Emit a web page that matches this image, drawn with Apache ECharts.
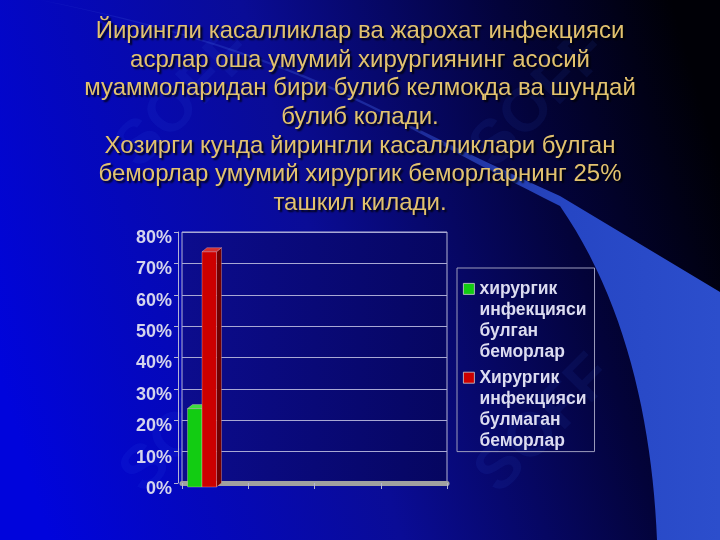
<!doctype html>
<html lang="uz">

<head>
    <meta charset="UTF-8" />
    <title>Йирингли касалликлар</title>
    <style>
        html, body { margin: 0; padding: 0; background: #000; }
        #main { width: 720px; height: 540px; }
    </style>
</head>

<body>
    <div id="main"></div>

    <script src="https://cdn.jsdelivr.net/npm/echarts@6/dist/echarts.min.js"></script>
    <script type="text/javascript">
        // data
        var categories = ['', '', '', ''];
        var seriesNames = ['хирургик инфекцияси булган беморлар', 'Хирургик инфекцияси булмаган беморлар'];
        var infectedValues = [25, null, null, null];
        var cleanValues = [75, null, null, null];
        var yTicks = { min: 0, max: 80, step: 10 };

        var titleText = 'Йирингли касалликлар ва жарохат инфекцияси\n' +
            'асрлар оша умумий хирургиянинг асосий\n' +
            'муаммоларидан бири булиб келмоқда ва шундай\n' +
            'булиб колади.\n' +
            'Хозирги кунда йирингли касалликлари булган\n' +
            'беморлар умумий хирургик беморларнинг 25%\n' +
            'ташкил килади.';

        var chart = echarts.init(document.getElementById('main'));

        // pseudo 3d look of the old excel chart
        var DX = 5, DY = 4, BAR_W = 14.5;

        function bar3d(idx, front, side, top) {
            return function (params, api) {
                var v = api.value(1);
                if (v == null || isNaN(v)) return;
                var c = api.value(0);
                var band = api.size([1, 0])[0];
                var start = api.coord([c, 0])[0] - band / 2;
                var yTop = api.coord([c, v])[1] + DY;
                var yBase = api.coord([c, 0])[1] + DY;
                var x0 = start + 5.5 + idx * BAR_W;
                var x1 = x0 + BAR_W;
                var edge = 'rgba(255,210,210,0.55)';
                return {
                    type: 'group',
                    children: [{
                        type: 'polygon',
                        shape: { points: [[x1, yTop], [x1 + DX, yTop - DY], [x1 + DX, yBase - DY], [x1, yBase]] },
                        style: { fill: side, stroke: edge, lineWidth: 0.6 }
                    }, {
                        type: 'rect',
                        shape: { x: x0, y: yTop, width: BAR_W, height: yBase - yTop },
                        style: { fill: front, stroke: edge, lineWidth: 0.6 }
                    }, {
                        type: 'polygon',
                        shape: { points: [[x0, yTop], [x0 + DX, yTop - DY], [x1 + DX, yTop - DY], [x1, yTop]] },
                        style: { fill: top, stroke: edge, lineWidth: 0.6 }
                    }]
                };
            };
        }

        function toData(arr) {
            return arr.map(function (v, i) { return [i, v]; });
        }

        // slide decoration: sample a few bezier segments into a polygon
        function bez(p0, p1, p2, p3, n) {
            var out = [];
            for (var i = 1; i <= n; i++) {
                var t = i / n, u = 1 - t;
                if (p3) {
                    out.push([u * u * u * p0[0] + 3 * u * u * t * p1[0] + 3 * u * t * t * p2[0] + t * t * t * p3[0],
                        u * u * u * p0[1] + 3 * u * u * t * p1[1] + 3 * u * t * t * p2[1] + t * t * t * p3[1]]);
                } else {
                    out.push([u * u * p0[0] + 2 * u * t * p1[0] + t * t * p2[0],
                        u * u * p0[1] + 2 * u * t * p1[1] + t * t * p2[1]]);
                }
            }
            return out;
        }
        var swoosh = [[40, 0]]
            .concat(bez([40, 0], [250, 40], [400, 120], null, 20))
            .concat(bez([400, 120], [480, 160], [560, 196], null, 10))
            .concat([[720, 292], [720, 540], [657, 540]])
            .concat(bez([657, 540], [652, 420], [625, 300], [560, 206], 24))
            .concat(bez([560, 206], [480, 166], [400, 122.5], null, 10))
            .concat(bez([400, 122.5], [250, 43], [40, 0], null, 20));

        var watermarks = [[185, 100], [540, 100], [190, 425], [545, 425]].map(function (p) {
            return {
                type: 'text',
                x: p[0], y: p[1],
                rotation: Math.PI / 4,
                z: -8,
                silent: true,
                style: {
                    text: 'SOFF',
                    font: 'bold 62px "Liberation Sans", Arial, sans-serif',
                    fill: 'rgba(70,110,255,0.08)',
                    align: 'center',
                    verticalAlign: 'middle'
                }
            };
        });

        var option = {
            animation: false,
            graphic: [{
                type: 'rect',
                z: -10,
                silent: true,
                shape: { x: 0, y: 0, width: 720, height: 540 },
                style: {
                    fill: new echarts.graphic.LinearGradient(0, 0.7, 1, 0.3, [
                        { offset: 0, color: '#0004dc' },
                        { offset: 0.45, color: '#0a0c96' },
                        { offset: 0.78, color: '#03033a' },
                        { offset: 1, color: '#000006' }
                    ])
                }
            }, {
                type: 'polygon',
                z: -9,
                silent: true,
                shape: { points: swoosh },
                style: {
                    fill: new echarts.graphic.LinearGradient(0, 0, 1, 0, [
                        { offset: 0, color: 'rgba(70,100,220,0.12)' },
                        { offset: 0.55, color: 'rgba(55,85,215,0.45)' },
                        { offset: 0.78, color: '#2646c4' },
                        { offset: 1, color: '#2c4ecc' }
                    ])
                }
            }].concat(watermarks),
            title: {
                text: titleText,
                left: 'center',
                top: 17,
                padding: 0,
                textStyle: {
                    fontFamily: '"Liberation Sans", Arial, sans-serif',
                    fontSize: 24,
                    fontWeight: 'normal',
                    lineHeight: 28.7,
                    color: '#e2c26e',
                    textShadowColor: 'rgba(0,0,0,0.9)',
                    textShadowOffsetX: 2,
                    textShadowOffsetY: 2,
                    textShadowBlur: 2
                }
            },
            legend: {
                orient: 'vertical',
                left: 457,
                top: 268,
                padding: [10, 8, 0, 6],
                itemGap: 4,
                itemWidth: 11,
                itemHeight: 84,
                icon: 'path://M0 0L0 0M0 5L11 5L11 16L0 16ZM0 84L0 84',
                borderColor: '#9c9cbc',
                borderWidth: 1,
                data: seriesNames,
                itemStyle: { borderColor: '#d0d0d0', borderWidth: 0.8 },
                formatter: function (name) { return name.split(' ').join('\n'); },
                textStyle: {
                    fontFamily: '"Liberation Sans", Arial, sans-serif',
                    fontSize: 17.5,
                    fontWeight: 'bold',
                    lineHeight: 21,
                    color: '#dcdcf0'
                }
            },
            grid: {
                left: 182,
                right: 273,
                top: 232,
                bottom: 57,
                show: true,
                borderColor: '#b4b4d4',
                borderWidth: 1,
                backgroundColor: new echarts.graphic.LinearGradient(0, 0, 1, 0, [
                    { offset: 0, color: '#0c0c8e' },
                    { offset: 1, color: '#060660' }
                ])
            },
            xAxis: {
                type: 'category',
                data: categories,
                offset: 2,
                axisLine: { lineStyle: { color: '#a0a0a0', width: 5 } },
                axisTick: { show: true, length: 6, lineStyle: { color: '#b4b4d4' } },
                axisLabel: { show: false },
                splitLine: { show: false }
            },
            yAxis: {
                type: 'value',
                min: yTicks.min,
                max: yTicks.max,
                interval: yTicks.step,
                offset: 4,
                axisLine: { show: true, lineStyle: { color: '#b4b4d4' } },
                axisTick: { show: true, length: 4, lineStyle: { color: '#b4b4d4' } },
                splitLine: { lineStyle: { color: '#a8a8d4', width: 1 } },
                axisLabel: {
                    formatter: '{value}%',
                    fontFamily: '"Liberation Sans", Arial, sans-serif',
                    fontSize: 18,
                    fontWeight: 'bold',
                    color: '#d4d4ec',
                    margin: 6,
                    verticalAlign: 'top',
                    lineHeight: 12,
                    textShadowColor: 'rgba(0,0,40,0.8)',
                    textShadowOffsetX: 1,
                    textShadowOffsetY: 1
                }
            },
            series: [{
                name: seriesNames[0],
                type: 'custom',
                coordinateSystem: 'cartesian2d',
                encode: { x: 0, y: 1 },
                itemStyle: { color: '#12cc12' },
                renderItem: bar3d(0, '#12cc12', '#0a7a0a', '#3ede3e'),
                data: toData(infectedValues)
            }, {
                name: seriesNames[1],
                type: 'custom',
                coordinateSystem: 'cartesian2d',
                encode: { x: 0, y: 1 },
                itemStyle: { color: '#cc0000' },
                renderItem: bar3d(1, '#cc0000', '#720000', '#d43030'),
                data: toData(cleanValues)
            }]
        };

        chart.setOption(option);
    </script>
</body>

</html>
